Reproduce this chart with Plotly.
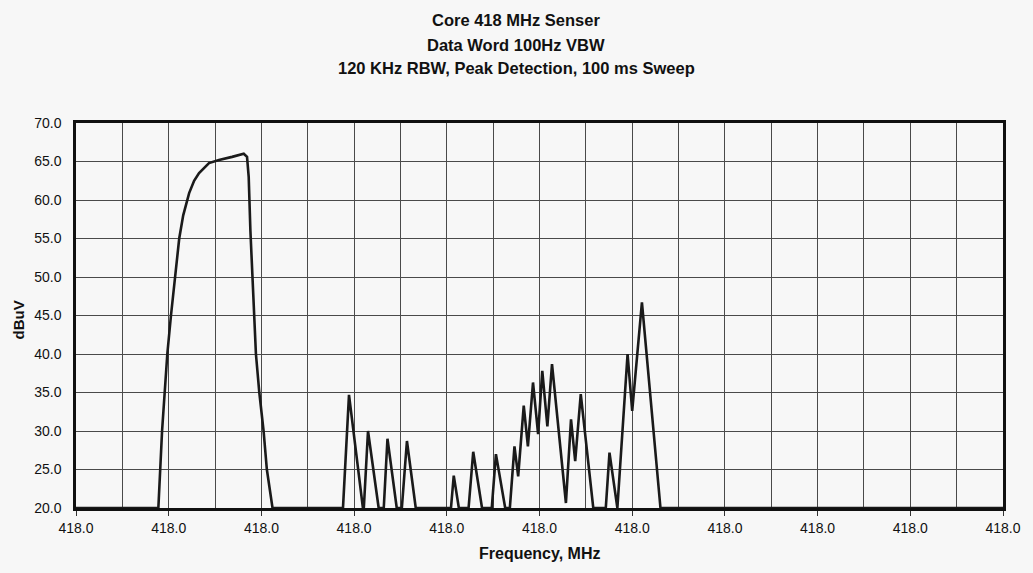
import plotly.graph_objects as go

# Frequency position in chart divisions (0..20, each division one grid cell)
freq_div = [
    0, 1.777, 1.857, 1.970, 2.049, 2.135, 2.227, 2.313, 2.441, 2.548, 2.655, 2.869,
    3.084, 3.368, 3.619, 3.690, 3.726, 3.762, 3.833, 3.882, 3.955, 4.047, 4.118, 4.240,
    5.76, 5.89, 6.19, 6.21, 6.30, 6.53, 6.64, 6.72, 6.92, 7.03, 7.14, 7.33,
    8.09, 8.15, 8.26, 8.47, 8.57, 8.76, 8.97, 9.06, 9.26,
    9.36, 9.46, 9.54, 9.66, 9.75, 9.86, 9.97, 10.06, 10.17, 10.27, 10.57, 10.68, 10.77, 10.89, 11.16,
    11.43, 11.51, 11.68, 11.90, 12.00, 12.21, 12.61, 20,
]
level_dbuv = [
    20, 20, 30, 40, 45, 50, 55, 58, 60.9, 62.5, 63.5, 64.8,
    65.2, 65.6, 66.0, 65.6, 63.0, 56.1, 45.7, 40, 35, 30, 25, 20,
    20, 34.7, 20, 20, 30.0, 20, 20, 29.0, 20, 20, 28.7, 20,
    20, 24.2, 20, 20, 27.3, 20, 20, 27.0, 20,
    20, 28.0, 24.1, 33.3, 28.0, 36.3, 29.6, 37.8, 30.6, 38.7, 20.65, 31.5, 26.1, 34.8, 20,
    20, 27.2, 20, 40.0, 32.6, 46.7, 20, 20,
]

x_tickvals = [0, 2, 4, 6, 8, 10, 12, 14, 16, 18, 20]
x_ticktext = ["418.0"] * 11
y_tickvals = [20, 25, 30, 35, 40, 45, 50, 55, 60, 65, 70]
y_ticktext = ["20.0", "25.0", "30.0", "35.0", "40.0", "45.0", "50.0", "55.0", "60.0", "65.0", "70.0"]

title_lines = ["Core 418 MHz Senser", "Data Word 100Hz VBW", "120 KHz RBW, Peak Detection, 100 ms Sweep"]

FONT = "Liberation Sans, Arial, sans-serif"
GRID = "#4a4a4a"

fig = go.Figure()
fig.add_trace(go.Scatter(
    x=freq_div, y=level_dbuv, mode="lines",
    line=dict(color="#1a1a1a", width=2.6),
    hoverinfo="skip", showlegend=False, cliponaxis=True,
))

fig.update_layout(
    width=1033, height=573,
    margin=dict(l=76, r=23, t=123, b=65),
    paper_bgcolor="#f7f7f7", plot_bgcolor="#f7f7f7",
    font=dict(family=FONT, color="#1a1a1a"),
    xaxis=dict(
        range=[0, 20], tickmode="array", tickvals=x_tickvals, ticktext=x_ticktext,
        showgrid=True, gridcolor=GRID, gridwidth=1,
        minor=dict(tickmode="linear", tick0=0, dtick=1, showgrid=True, gridcolor=GRID, gridwidth=1, ticks=""),
        showline=True, linecolor="#111", linewidth=2.5, mirror=True,
        ticks="outside", ticklen=5, tickcolor="#333", tickwidth=1,
        tickfont=dict(size=14, color="#111"), zeroline=False,
    ),
    yaxis=dict(
        range=[20, 70], tickmode="array", tickvals=y_tickvals, ticktext=y_ticktext,
        showgrid=True, gridcolor=GRID, gridwidth=1,
        showline=True, linecolor="#111", linewidth=2.5, mirror=True,
        ticks="outside", ticklen=9, tickcolor="rgba(0,0,0,0)",
        tickfont=dict(size=14, color="#111"), zeroline=False,
    ),
)

title_y_px = [20, 45, 68]
for line, ypx in zip(title_lines, title_y_px):
    fig.add_annotation(
        text="<b>%s</b>" % line, xref="paper", yref="paper",
        x=(519.5 - 76) / 934, y=1 + (123 - ypx) / 385,
        xanchor="center", yanchor="middle", showarrow=False,
        font=dict(size=16.5, family=FONT, color="#111"),
    )

fig.add_annotation(
    text="<b>Frequency, MHz</b>", xref="paper", yref="paper",
    x=(543 - 76) / 934, y=-(553 - 508) / 385, xanchor="center", yanchor="middle",
    showarrow=False, font=dict(size=16, family=FONT, color="#111"),
)
fig.add_annotation(
    text="<b>dBuV</b>", xref="paper", yref="paper", textangle=-90,
    x=-(76 - 18) / 934, y=(508 - 320) / 385, xanchor="center", yanchor="middle",
    showarrow=False, font=dict(size=15, family=FONT, color="#111"),
)

fig.write_html("out.html")
